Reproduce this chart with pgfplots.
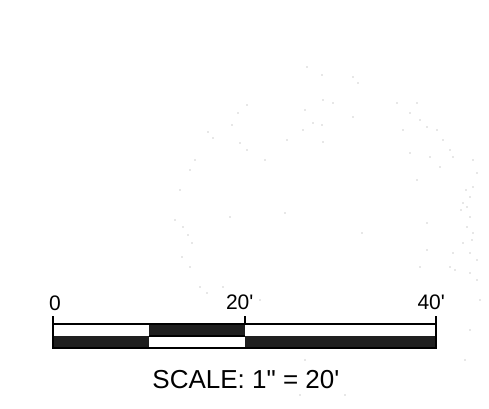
\documentclass[border=0pt]{standalone}
\usepackage{pgfplots}
\pgfplotsset{compat=1.18}
\usepackage{fontspec}
\setmainfont{Liberation Sans}[Ligatures=TeXOff]

\begin{document}
\begin{tikzpicture}
% speckles of the scan, in pixel coordinates
\begin{axis}[
  width=489pt, height=408pt, scale only axis,
  xmin=0, xmax=489, ymin=0, ymax=408, y dir=reverse,
  hide axis, clip=false,
]
\path (rel axis cs:0,0) rectangle (rel axis cs:1,1);
\addplot[only marks, mark=*, mark size=0.7pt, gray!80, draw opacity=0] coordinates {
  (307,67) (322,75) (323,100) (353,77) (358,83) (305,110) (313,123) (322,125)
  (303,130) (333,103) (353,117) (247,105) (238,113) (232,125) (213,138) (208,132)
  (195,160) (190,170) (180,190) (175,220) (183,227) (188,235) (192,243) (182,257)
  (190,267) (200,287) (207,293) (223,287) (240,143) (247,150) (265,160) (287,140)
  (230,217) (285,213) (362,233) (323,142)
  (397,103) (417,103) (410,113) (420,120) (427,127) (437,130) (443,140) (450,150)
  (453,157) (473,160) (477,173) (473,187) (470,197) (463,203) (467,207) (470,217)
  (467,227) (473,233) (463,243) (470,253) (477,260) (453,253) (450,267) (470,273)
  (477,280) (427,223) (427,250) (420,267) (417,180) (410,153) (430,157) (440,167)
  (403,130) (260,300) (280,330) (305,360) (300,395) (345,395) (470,330) (465,360)
  (480,300) (466,190) (461,210) (472,240) (455,270)
};
\end{axis}
% the scale bar, x in feet
\begin{axis}[
  width=489pt, height=408pt, scale only axis,
  xmin=-5.535, xmax=45.535, ymin=0, ymax=408, y dir=reverse,
  hide axis, clip=false,
]
% top row: white, black, white
\addplot[fill=white, draw=none] coordinates {(0,324) (10,324) (10,336) (0,336)} -- cycle;
\addplot[fill=black!88, draw=none] coordinates {(10,324) (20,324) (20,336) (10,336)} -- cycle;
\addplot[fill=white, draw=none] coordinates {(20,324) (40,324) (40,336) (20,336)} -- cycle;
% bottom row: black, white, black
\addplot[fill=black!88, draw=none] coordinates {(0,336) (10,336) (10,348) (0,348)} -- cycle;
\addplot[fill=white, draw=none] coordinates {(10,336) (20,336) (20,348) (10,348)} -- cycle;
\addplot[fill=black!88, draw=none] coordinates {(20,336) (40,336) (40,348) (20,348)} -- cycle;
% outline and ticks
\addplot[black, line width=2pt] coordinates {(0,324) (40,324) (40,348) (0,348)} -- cycle;
\addplot[black, line width=1.6pt] coordinates {(10,336) (20,336)};
\addplot[black, line width=2pt] coordinates {(0,316) (0,324)};
\addplot[black, line width=2pt] coordinates {(20,316) (20,324)};
\addplot[black, line width=2pt] coordinates {(40,316) (40,324)};
\node[anchor=base, font=\fontsize{21}{21}\selectfont] at (axis cs:0.2,310) {0};
\node[anchor=base, font=\fontsize{21}{21}\selectfont] at (axis cs:19.5,309) {20'};
\node[anchor=base, font=\fontsize{21}{21}\selectfont] at (axis cs:39.5,309) {40'};
\node[anchor=base, font=\fontsize{26}{26}\selectfont] at (axis cs:20.15,388) {SCALE: 1" = 20'};
\end{axis}
\end{tikzpicture}
\end{document}
